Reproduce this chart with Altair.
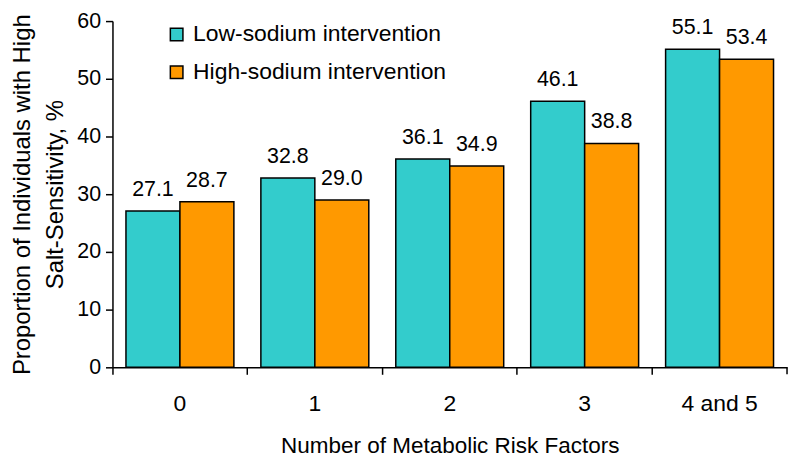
import altair as alt
import pandas as pd

categories = ["0", "1", "2", "3", "4 and 5"]
series = ["Low-sodium intervention", "High-sodium intervention"]
low_values = [27.1, 32.8, 36.1, 46.1, 55.1]
high_values = [28.7, 29.0, 34.9, 38.8, 53.4]
colors = ["#33CCCC", "#FF9900"]

rows = []
for c, lo, hi in zip(categories, low_values, high_values):
    rows.append({"cat": c, "series": series[0], "value": lo})
    rows.append({"cat": c, "series": series[1], "value": hi})
df = pd.DataFrame(rows)

W, H = 678, 348
FONT = "Liberation Sans"

x = alt.X("cat:N", sort=categories,
          scale=alt.Scale(paddingInner=0.2, paddingOuter=0.1),
          axis=alt.Axis(title="Number of Metabolic Risk Factors", labelAngle=0,
                        bandPosition=-0.125, tickSize=7, tickColor="black",
                        domainColor="black", tickWidth=1.5, domainWidth=1.5,
                        labelPadding=18, titlePadding=20,
                        labelFontSize=23, titleFontSize=22.6,
                        labelFont=FONT, titleFont=FONT,
                        labelColor="black", titleColor="black",
                        titleFontWeight="normal"))
xoff = alt.XOffset("series:N", sort=series)
y = alt.Y("value:Q", scale=alt.Scale(domain=[0, 60]),
          axis=alt.Axis(title=["Proportion of Individuals with High", "Salt-Sensitivity, %"],
                        values=[0, 10, 20, 30, 40, 50, 60], grid=False,
                        tickSize=7, tickColor="black", domainColor="black",
                        tickWidth=1.5, domainWidth=1.5,
                        labelFontSize=21.5, titleFontSize=24, labelPadding=5,
                        titlePadding=9, titleLineHeight=33,
                        labelFont=FONT, titleFont=FONT,
                        labelColor="black", titleColor="black",
                        titleFontWeight="normal"))
color = alt.Color("series:N", sort=series,
                  scale=alt.Scale(domain=series, range=colors),
                  legend=alt.Legend(title=None, orient="none", legendX=53, legendY=2,
                                    symbolType="square", symbolSize=160,
                                    symbolStrokeColor="black", symbolStrokeWidth=1.5,
                                    symbolOpacity=1,
                                    labelFontSize=23, labelFont=FONT, labelColor="black",
                                    labelOffset=5, rowPadding=14, labelLimit=400))

bars = alt.Chart(df).mark_bar(stroke="black", strokeWidth=1.5, opacity=1).encode(
    x=x, xOffset=xoff, y=y, color=color)

labels = alt.Chart(df).mark_text(baseline="alphabetic", dy=-15, fontSize=21.5,
                                 font=FONT, color="black").encode(
    x=alt.X("cat:N", sort=categories), xOffset=xoff, y="value:Q",
    text=alt.Text("value:Q", format=".1f"))

end_tick = alt.Chart(pd.DataFrame({"a": [0]})).mark_rule(color="black", strokeWidth=1.5).encode(
    x=alt.value(W), y=alt.value(H), y2=alt.value(H + 7))

chart = alt.layer(bars, labels, end_tick).properties(
    width=W, height=H,
    autosize=alt.AutoSizeParams(type="none"),
    padding={"left": 105, "top": 12, "right": 5, "bottom": 90},
).configure_view(stroke=None)

chart.save("out.html", embed_options={"renderer": "svg", "actions": False})
